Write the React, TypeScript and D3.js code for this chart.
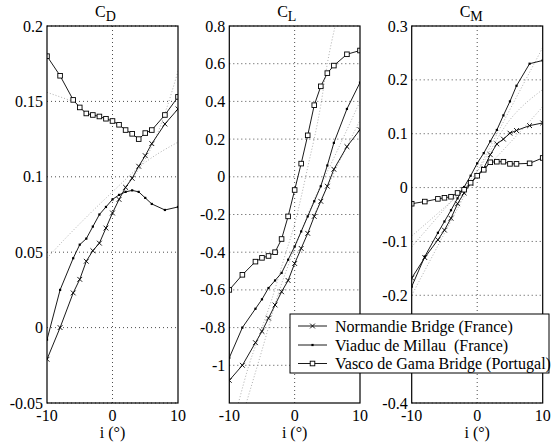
import React from "react";
import * as d3 from "d3";

// angle of incidence (deg) for the wind tunnel points
const incidence = [-10, -8, -6, -5, -4, -3, -2, -1, 0, 1, 2, 3, 4, 5, 6, 8, 10];

// drag coefficient
const normandieCD = [-0.021, 0.0, 0.023, 0.032, 0.044, 0.051, 0.056, 0.066, 0.076, 0.085, 0.093, 0.099, 0.107, 0.114, 0.122, 0.135, 0.145];
const millauCD = [-0.008, 0.025, 0.046, 0.055, 0.059, 0.067, 0.075, 0.08, 0.085, 0.088, 0.09, 0.091, 0.09, 0.086, 0.082, 0.078, 0.08];
const vascoCD = [0.18, 0.167, 0.151, 0.146, 0.142, 0.141, 0.14, 0.1385, 0.137, 0.1345, 0.131, 0.1285, 0.125, 0.129, 0.131, 0.141, 0.153];

// lift coefficient
const normandieCL = [-1.08, -1.0, -0.88, -0.82, -0.75, -0.68, -0.61, -0.55, -0.46, -0.38, -0.3, -0.21, -0.13, -0.05, 0.04, 0.16, 0.25];
const millauCL = [-0.96, -0.8, -0.7, -0.65, -0.59, -0.55, -0.51, -0.44, -0.37, -0.29, -0.21, -0.13, -0.05, 0.06, 0.18, 0.36, 0.5];
const vascoCL = [-0.6, -0.52, -0.45, -0.43, -0.42, -0.4, -0.33, -0.21, -0.07, 0.07, 0.22, 0.38, 0.48, 0.55, 0.59, 0.65, 0.67];

// moment coefficient
const normandieCM = [-0.168, -0.13, -0.097, -0.079, -0.057, -0.03, -0.01, 0.008, 0.022, 0.036, 0.061, 0.081, 0.09, 0.101, 0.106, 0.115, 0.12];
const millauCM = [-0.184, -0.128, -0.084, -0.063, -0.042, -0.02, 0.001, 0.022, 0.045, 0.064, 0.086, 0.107, 0.134, 0.16, 0.189, 0.23, 0.236];
const vascoCM = [-0.03, -0.026, -0.021, -0.019, -0.017, -0.01, -0.004, 0.009, 0.022, 0.033, 0.047, 0.048, 0.048, 0.044, 0.044, 0.045, 0.055];

// light dotted fit curves, [i, value]
const cdFits = [
  [[-10, 0.156], [-8, 0.153], [-6, 0.15]],
  [[1.5, 0.091], [4, 0.105], [6, 0.12], [8, 0.142], [10, 0.17]],
  [[-10, 0.046], [-7, 0.06], [-3.7, 0.0745], [0, 0.09], [4.4, 0.1076], [10, 0.123]],
];
const clFits = [
  [[-8.6, -1.2], [-7, -1.0], [-5.5, -0.85], [-3.5, -0.65], [-1.5, -0.42], [0, -0.25], [2, 0.05], [4, 0.38], [5, 0.6], [6.2, 0.8]],
  [[-7.4, -1.2], [-5, -0.92], [-2.5, -0.62], [0, -0.38], [3, -0.12], [6, 0.1], [10, 0.4]],
  [[3, -0.2], [6, 0.02], [10, 0.3]],
];
const cmFits = [
  [[-10, -0.2], [0, 0.03], [10, 0.26]],
  [[-10, -0.11], [-5, -0.04], [0, 0.03], [5, 0.126], [10, 0.182]],
  [[-10, -0.09], [0, 0.02], [10, 0.15]],
];

const cdTicks = [-0.05, 0, 0.05, 0.1, 0.15, 0.2];
const clTicks = [-1, -0.8, -0.6, -0.4, -0.2, 0, 0.2, 0.4, 0.6, 0.8];
const cmTicks = [-0.4, -0.3, -0.2, -0.1, 0, 0.1, 0.2, 0.3];
// the -0.3 label of C_M sits under the legend in the original
const cmHiddenLabels = [-0.3];
const xTicks = [-10, 0, 10];

const legendNames = ["Normandie Bridge (France)", "Viaduc de Millau  (France)", "Vasco de Gama Bridge (Portugal)"];

const FONT = '"Liberation Serif", "Times New Roman", Times, serif';
const W = 555;
const H = 448;
const TOP = 26;
const BOTTOM = 403;

const panels = [
  { sub: "D", left: 47, right: 178, domain: [-0.05, 0.2], ticks: cdTicks, hidden: [] as number[], data: [normandieCD, millauCD, vascoCD], fits: cdFits },
  { sub: "L", left: 229.3, right: 360, domain: [-1.2, 0.8], ticks: clTicks, hidden: [] as number[], data: [normandieCL, millauCL, vascoCL], fits: clFits },
  { sub: "M", left: 411.7, right: 542.7, domain: [-0.4, 0.3], ticks: cmTicks, hidden: cmHiddenLabels, data: [normandieCM, millauCM, vascoCM], fits: cmFits },
];

const Marker = ({ kind, x, y }: { kind: number; x: number; y: number }) => {
  if (kind === 0) {
    const s = 2.4;
    return (
      <path d={`M${x - s},${y - s}L${x + s},${y + s}M${x - s},${y + s}L${x + s},${y - s}`} stroke="#000" strokeWidth={0.9} />
    );
  }
  if (kind === 1) {
    return <rect x={x - 1.1} y={y - 1.1} width={2.2} height={2.2} fill="#000" />;
  }
  return <rect x={x - 2.3} y={y - 2.3} width={4.6} height={4.6} fill="#fff" stroke="#000" strokeWidth={0.9} />;
};

const fmt = (v: number) => String(+v.toFixed(2));

const Panel = ({ p }: { p: typeof panels[number] }) => {
  const x = d3.scaleLinear().domain([-10, 10]).range([p.left, p.right]);
  const y = d3.scaleLinear().domain(p.domain).range([BOTTOM, TOP]);
  const line = d3.line<number>().x((_, i) => x(incidence[i])).y((d) => y(d));
  const fitLine = d3.line<number[]>().x((d) => x(d[0])).y((d) => y(d[1])).curve(d3.curveMonotoneX);
  const cx = (p.left + p.right) / 2;

  return (
    <g>
      <defs>
        <clipPath id={`clip${p.sub}`}>
          <rect x={p.left} y={TOP} width={p.right - p.left} height={BOTTOM - TOP} />
        </clipPath>
      </defs>
      {/* grid */}
      {p.ticks.map((t) => (
        <line key={t} x1={p.left} x2={p.right} y1={y(t)} y2={y(t)} stroke="#000" strokeWidth={0.7} strokeDasharray="1,3" />
      ))}
      <line x1={x(0)} x2={x(0)} y1={TOP} y2={BOTTOM} stroke="#000" strokeWidth={0.7} strokeDasharray="1,3" />

      <g clipPath={`url(#clip${p.sub})`}>
        {p.fits.map((f, k) => (
          <path key={k} d={fitLine(f) || ""} fill="none" stroke="#9a9a9a" strokeWidth={0.8} strokeDasharray="1,2" />
        ))}
        {p.data.map((s, k) => (
          <path key={k} d={line(s) || ""} fill="none" stroke="#000" strokeWidth={0.9} />
        ))}
        {p.data.map((s, k) =>
          s.map((v, j) => <Marker key={`${k}-${j}`} kind={k} x={x(incidence[j])} y={y(v)} />)
        )}
      </g>

      <rect x={p.left} y={TOP} width={p.right - p.left} height={BOTTOM - TOP} fill="none" stroke="#000" strokeWidth={1.2} />

      {p.ticks
        .filter((t) => !p.hidden.includes(t))
        .map((t) => (
          <text key={t} x={p.left - 4} y={y(t) + 5.5} textAnchor="end" fontSize={16}>
            {fmt(t)}
          </text>
        ))}
      {xTicks.map((t) => (
        <text key={t} x={x(t)} y={421} textAnchor="middle" fontSize={16}>
          {t}
        </text>
      ))}
      <text x={cx} y={438} textAnchor="middle" fontSize={16}>
        i (°)
      </text>
      <text x={cx - 17.5} y={17} fontSize={16}>
        C<tspan fontSize={14} dy={4}>{p.sub}</tspan>
      </text>
    </g>
  );
};

const Legend = () => {
  const rows = [326, 345, 363.5];
  return (
    <g>
      <rect x={290} y={314} width={259} height={59} fill="#fff" stroke="#000" strokeWidth={1} />
      {legendNames.map((name, k) => (
        <g key={name}>
          <line x1={298} x2={327} y1={rows[k]} y2={rows[k]} stroke="#000" strokeWidth={0.9} />
          <Marker kind={k} x={312.5} y={rows[k]} />
          <text x={335} y={rows[k] + 5.5} fontSize={16} style={{ whiteSpace: "pre" }}>
            {name}
          </text>
        </g>
      ))}
    </g>
  );
};

export default function App() {
  return (
    <div style={{ position: "absolute", left: 0, top: 0, width: W, height: H, background: "#fff", fontFamily: FONT }}>
      <svg width={W} height={H} style={{ display: "block", fontFamily: FONT }}>
        <rect width={W} height={H} fill="#fff" />
        {panels.map((p) => (
          <Panel key={p.sub} p={p} />
        ))}
        <Legend />
      </svg>
    </div>
  );
}
